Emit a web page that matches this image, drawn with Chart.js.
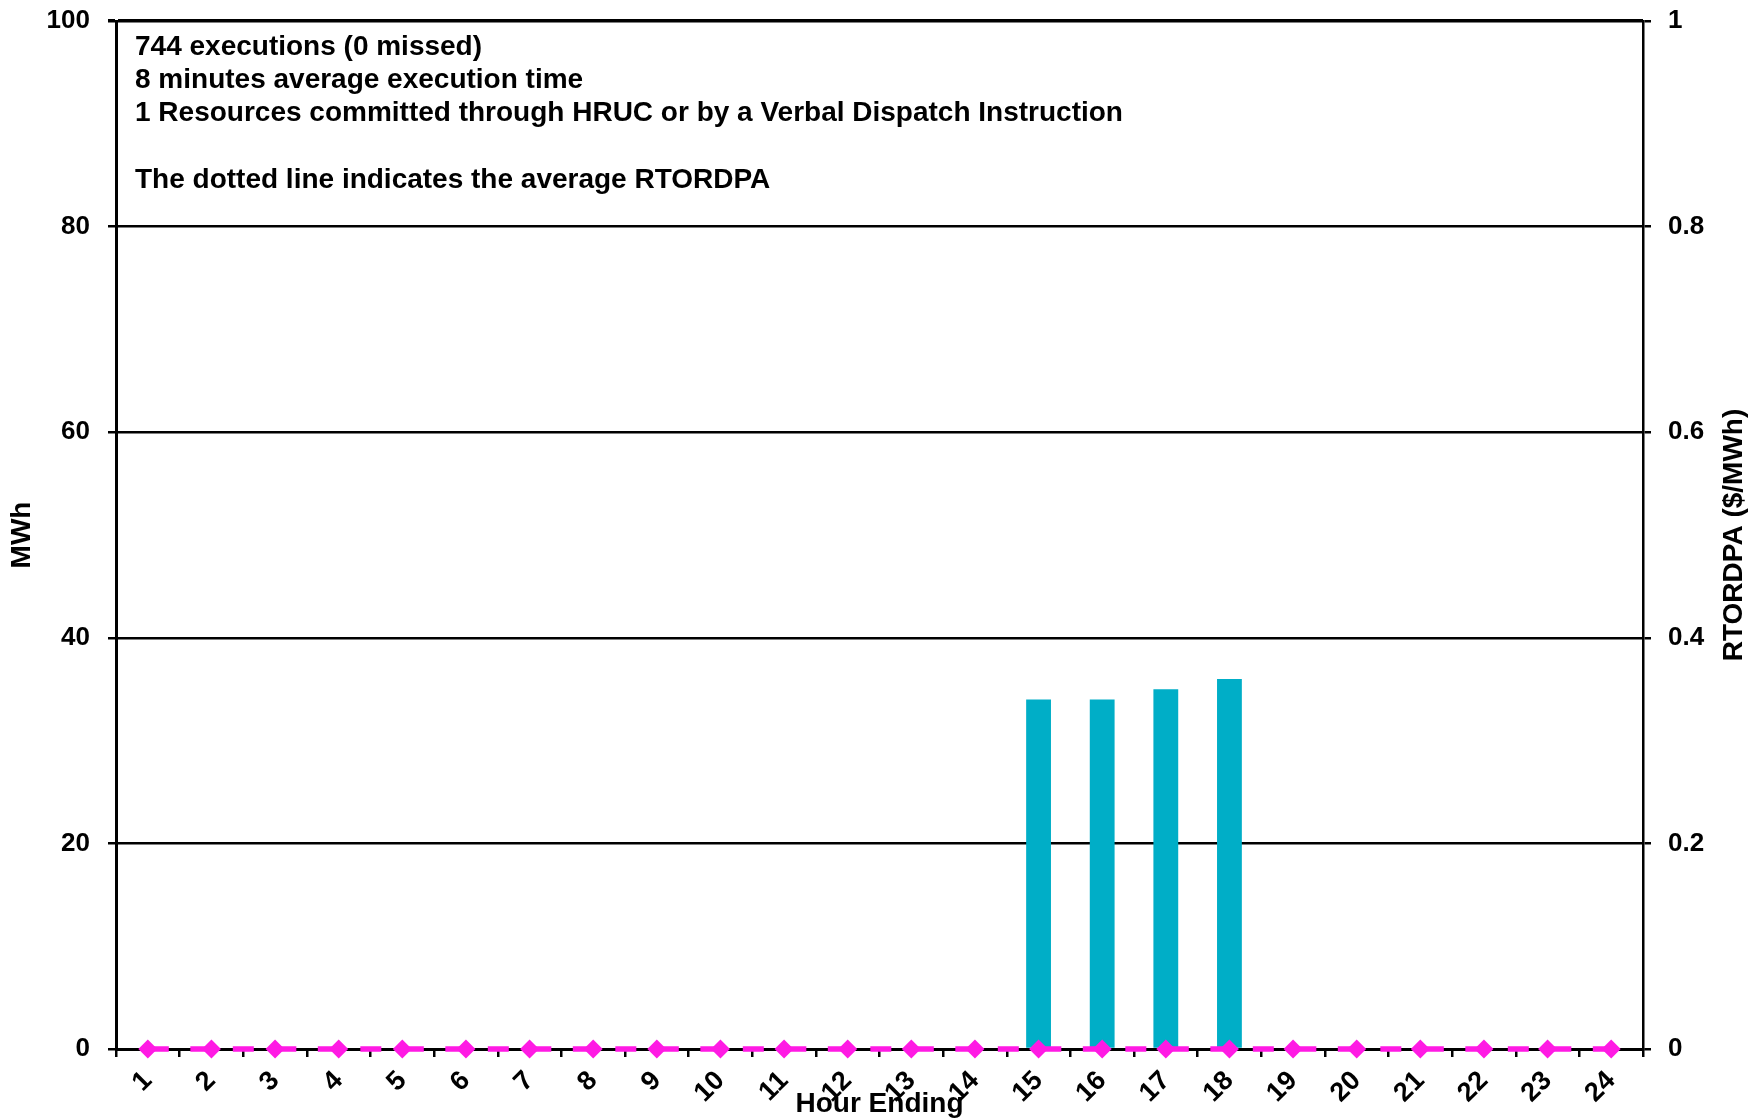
<!DOCTYPE html>
<html>
<head>
  <title>HRUC</title>
  <script src="https://cdn.jsdelivr.net/npm/chart.js"></script>
  <style>
    html, body { margin: 0; padding: 0; background: #fff; }
    canvas { display: block; }
  </style>
</head>
<body>
  <canvas id="hruc" width="1752" height="1118"></canvas>

  <script>
    const hours = ['1', '2', '3', '4', '5', '6', '7', '8', '9', '10', '11', '12',
                   '13', '14', '15', '16', '17', '18', '19', '20', '21', '22', '23', '24'];
    const mwh = [0, 0, 0, 0, 0, 0, 0, 0, 0, 0, 0, 0,
                 0, 0, 34, 34, 35, 36, 0, 0, 0, 0, 0, 0];
    const rtordpa = [0, 0, 0, 0, 0, 0, 0, 0, 0, 0, 0, 0,
                     0, 0, 0, 0, 0, 0, 0, 0, 0, 0, 0, 0];
    const avgRtordpa = [0, 0, 0, 0, 0, 0, 0, 0, 0, 0, 0, 0,
                        0, 0, 0, 0, 0, 0, 0, 0, 0, 0, 0, 0];
    const notes = [
      '744 executions (0 missed)',
      '8 minutes average execution time',
      '1 Resources committed through HRUC or by a Verbal Dispatch Instruction',
      '',
      'The dotted line indicates the average RTORDPA'
    ];

    const FONT = '"Liberation Sans", Arial, sans-serif';
    const pink = '#FF1AE4';

    // notes box + right axis title (reads bottom to top like the left one)
    const notesPlugin = {
      id: 'notes',
      afterDraw(chart) {
        const { ctx, chartArea } = chart;
        ctx.save();
        ctx.fillStyle = '#000';
        ctx.textBaseline = 'middle';
        ctx.font = 'bold 28px ' + FONT;
        notes.forEach((line, i) => {
          ctx.fillText(line, chartArea.left + 19, chartArea.top + 26 + i * 33.3);
        });
        ctx.translate(chartArea.right + 91, (chartArea.top + chartArea.bottom) / 2);
        ctx.rotate(-Math.PI / 2);
        ctx.textAlign = 'center';
        ctx.fillText('RTORDPA ($/MWh)', 0, 0);
        ctx.restore();
      }
    };

    // fixed axis sizes, no extra room for the end labels
    const fitY = (w) => (s) => { s.width = w; s.paddingTop = 0; s.paddingBottom = 0; };

    new Chart(document.getElementById('hruc').getContext('2d'), {
      type: 'bar',
      data: {
        labels: hours,
        datasets: [
          {
            type: 'line',
            label: 'RTORDPA',
            data: rtordpa,
            yAxisID: 'y1',
            showLine: false,
            pointStyle: 'rectRot',
            pointRadius: 9.5,
            pointBackgroundColor: pink,
            pointBorderWidth: 0,
            clip: false,
            order: 1
          },
          {
            type: 'line',
            label: 'Average RTORDPA',
            data: avgRtordpa,
            yAxisID: 'y1',
            borderColor: pink,
            borderWidth: 5.5,
            borderDash: [21, 21.5],
            pointRadius: 0,
            clip: false,
            order: 2
          },
          {
            label: 'MWh',
            data: mwh,
            yAxisID: 'y',
            backgroundColor: '#00AEC7',
            categoryPercentage: 1,
            barPercentage: 0.39,
            order: 3
          }
        ]
      },
      options: {
        responsive: false,
        animation: false,
        layout: { padding: { top: 21, left: 0, right: 0, bottom: 0 } },
        plugins: {
          legend: { display: false },
          tooltip: { enabled: false }
        },
        scales: {
          x: {
            afterFit: (s) => { s.height = 69; s.paddingLeft = 0; s.paddingRight = 0; },
            grid: { drawOnChartArea: false, color: '#000', lineWidth: 2.5, tickLength: 8 },
            border: { color: '#000', width: 3 },
            ticks: {
              color: '#000',
              font: { family: FONT, size: 27, weight: 'bold' },
              autoSkip: false,
              minRotation: 45,
              maxRotation: 45,
              padding: 8
            },
            title: {
              display: true,
              text: 'Hour Ending',
              color: '#000',
              font: { family: FONT, size: 28, weight: 'bold', lineHeight: 1 },
              padding: { top: 0, bottom: 0 }
            }
          },
          y: {
            position: 'left',
            min: 0,
            max: 100,
            afterFit: fitY(116),
            grid: {
              color: '#000',
              lineWidth: (c) => (c.tick && c.tick.value === 100 ? 3.5 : 2.5),
              tickLength: 8
            },
            border: { color: '#000', width: 3 },
            ticks: {
              stepSize: 20,
              color: '#000',
              font: { family: FONT, size: 26, weight: 'bold' },
              padding: 18
            },
            title: {
              display: true,
              text: 'MWh',
              color: '#000',
              font: { family: FONT, size: 28, weight: 'bold', lineHeight: 1 },
              padding: { top: 8, bottom: 0 }
            }
          },
          y1: {
            position: 'right',
            min: 0,
            max: 1,
            afterFit: fitY(109),
            grid: { drawOnChartArea: false, color: '#000', lineWidth: 2.5, tickLength: 8 },
            border: { color: '#000', width: 2.5 },
            ticks: {
              stepSize: 0.2,
              color: '#000',
              font: { family: FONT, size: 26, weight: 'bold' },
              padding: 17,
              callback: (v) => String(Number(v.toFixed(1)))
            }
          }
        }
      },
      plugins: [notesPlugin]
    });
  </script>
</body>
</html>
